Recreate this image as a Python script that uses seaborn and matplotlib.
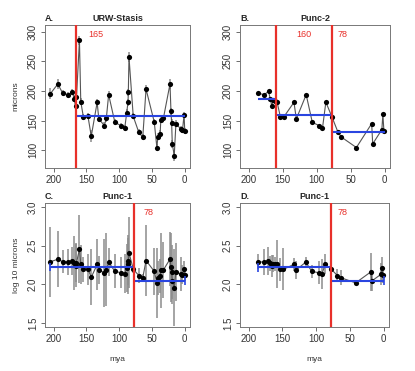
import numpy as np
import pandas as pd
import matplotlib
matplotlib.use("Agg")
import matplotlib.pyplot as plt
import seaborn as sns

# ---- data ----

# panel A / C : URW-Stasis and Punc-1 (all samples)
mya_a = [205, 193.5, 186, 177.5, 171.5, 168.5, 166.5, 165, 160.5, 158.5,
         154.5, 147.5, 142.5, 133.5, 131, 122.5, 119.5, 116, 106.5, 97.5,
         91.5, 88.5, 86.5, 86, 85, 78.5, 70, 64, 59, 46.5,
         42.5, 41, 37.5, 36.5, 32.5, 22.5, 21, 20, 19, 16,
         13.5, 6, 3.5, 1, 0]
microns_a = [195, 211.5, 196, 193.6, 198.6, 186.8, 174, 190, 284.9, 182,
             156, 157, 123.5, 180.7, 152.7, 141.5, 154, 193.6, 147, 141.5,
             137, 162.7, 181, 197.5, 257, 157, 130, 121.8, 203, 147.6,
             104.5, 122.4, 127.5, 151.5, 154, 211.5, 165.5, 146, 110.6, 91,
             144.3, 136, 133.6, 160, 132]
err_a = [9, 8, 5, 5, 5, 6, 6, 6, 8, 6,
         5, 5, 10, 6, 6, 6, 6, 6, 5, 5,
         5, 6, 6, 6, 8, 5, 5, 5, 7, 5,
         6, 6, 6, 6, 6, 8, 6, 6, 7, 10,
         6, 5, 5, 5, 5]
err_c = [0.45, 0.36, 0.15, 0.17, 0.18, 0.35, 0.28, 0.25, 0.44, 0.25,
         0.16, 0.20, 0.36, 0.33, 0.18, 0.44, 0.47, 0.18, 0.22, 0.20,
         0.25, 0.31, 0.38, 0.30, 0.46, 0.05, 0.10, 0.05, 0.46, 0.30,
         0.45, 0.22, 0.22, 0.48, 0.36, 0.35, 0.45, 0.35, 0.30, 0.50,
         0.37, 0.22, 0.12, 0.10, 0.08]

# panel B / D : Punc-2 and Punc-1 (subset)
mya_b = [186, 177.5, 171, 168.5, 166, 164.5, 161.5, 158.5, 153.5, 148.5,
         133.5, 130, 115.5, 106.5, 96.5, 91.5, 86.5, 77.5, 68.5, 63.5,
         41.5, 19, 17.5, 4, 2.5, 1]
microns_b = [196, 193.6, 199, 187, 174, 185, 183.5, 182, 156, 156,
             180.7, 152.7, 193.6, 147, 141.5, 137, 181, 156, 130, 122,
             104.5, 144.8, 110.6, 134.7, 160.6, 133]
err_d = [0.10, 0.17, 0.18, 0.10, 0.14, 0.11, 0.09, 0.31, 0.15, 0.27,
         0.08, 0.12, 0.07, 0.08, 0.15, 0.19, 0.13, 0.02, 0.08, 0.10,
         0.02, 0.24, 0.13, 0.14, 0.15, 0.11]

# fitted segments: (start, end, mean)
seg_a = [(165, 0, 157)]
seg_b = [(186, 160, 187), (160, 78, 160), (78, 0, 130)]
seg_c = [(205, 78, 2.225), (78, 0, 2.05)]
seg_d = [(186, 78, 2.22), (78, 0, 2.05)]

shifts_a = [165]
shifts_b = [160, 78]
shifts_c = [78]
shifts_d = [78]

df_a = pd.DataFrame({"mya": mya_a, "val": microns_a, "err": err_a})
df_b = pd.DataFrame({"mya": mya_b, "val": microns_b, "err": 0.0})
df_c = pd.DataFrame({"mya": mya_a, "val": np.log10(microns_a), "err": err_c})
df_d = pd.DataFrame({"mya": mya_b, "val": np.log10(microns_b), "err": err_d})

# ---- style ----
sns.set_style("ticks")
plt.rcParams["font.family"] = ["Liberation Sans", "DejaVu Sans"]

RED = "#e8302a"
BLUE = "#2a45e0"
W, H = 415, 371

fig = plt.figure(figsize=(W / 100, H / 100), dpi=100)


def make_ax(x0, y0, x1, y1):
    return fig.add_axes([x0 / W, 1 - y1 / H, (x1 - x0) / W, (y1 - y0) / H])


def panel(ax, df, segs, shifts, tag, title, ylim, yticks, ylabels,
          caps=False, label_dx=(9,)):
    ax.vlines(df["mya"], df["val"] - df["err"], df["val"] + df["err"],
              color="#8c8c8c", lw=1.1, zorder=1)
    sns.lineplot(data=df, x="mya", y="val", sort=False, color="#555555",
                 lw=0.8, ax=ax, zorder=2, estimator=None)
    sns.scatterplot(data=df, x="mya", y="val", color="black", s=14,
                    edgecolor="black", linewidth=0, ax=ax, zorder=3)
    for (s, e, m) in segs:
        ax.hlines(m, s, e, color=BLUE, lw=1.5, zorder=4)
    if caps:
        d = (ylim[1] - ylim[0]) * 0.035
        ax.vlines(segs[0][0], segs[0][2] - d, segs[0][2] + d, color=BLUE, lw=1.2, zorder=4)
        ax.vlines(segs[-1][1], segs[-1][2] - d, segs[-1][2] + d, color=BLUE, lw=1.2, zorder=4)
    for i, sh in enumerate(shifts):
        ax.axvline(sh, color=RED, lw=1.6, zorder=5)
        ax.annotate(str(sh), xy=(sh, ylim[1]), xytext=(label_dx[i], -7),
                    textcoords="offset points", color=RED, fontsize=6.5,
                    ha="center", va="center")
    ax.set_xlim(213, -8)
    ax.set_ylim(*ylim)
    ax.set_xticks([200, 150, 100, 50, 0])
    ax.set_xticklabels(["200", "150", "100", "50", "0"])
    ax.set_yticks(yticks)
    ax.set_yticklabels(ylabels, rotation=90, va="center")
    ax.tick_params(labelsize=7, length=3, width=0.6, colors="#555555",
                   labelcolor="#333333", pad=2)
    for sp in ax.spines.values():
        sp.set_visible(True)
        sp.set_color("#777777")
        sp.set_linewidth(0.7)
    ax.set_xlabel("")
    ax.set_ylabel("")
    ax.set_title(tag, loc="left", fontsize=6.5, fontweight="bold", pad=3)
    ax.set_title(title, loc="center", fontsize=6.5, fontweight="bold", pad=3)


# --------------------------
# A. URW-Stasis
# --------------------------
ax_a = make_ax(45, 25, 190, 168)
panel(ax_a, df_a, seg_a, shifts_a, "A.", "URW-Stasis", (70, 311),
      [100, 150, 200, 250, 300], ["100", "150", "200", "250", "300"],
      label_dx=(14,))
ax_a.set_ylabel("microns", fontsize=6, color="#333333", labelpad=6)

# --------------------------
# B. Punc-2
# --------------------------
ax_b = make_ax(240, 25, 390, 168)
panel(ax_b, df_b, seg_b, shifts_b, "B.", "Punc-2", (70, 311),
      [100, 150, 200, 250, 300], ["100", "150", "200", "250", "300"],
      label_dx=(20, 8))

# --------------------------
# C. Punc-1
# --------------------------
ax_c = make_ax(45, 203, 190, 327)
panel(ax_c, df_c, seg_c, shifts_c, "C.", "Punc-1", (1.45, 3.05),
      [1.5, 2.0, 2.5, 3.0], ["1.5", "2.0", "2.5", "3.0"], caps=True,
      label_dx=(11,))
ax_c.set_ylabel("log 10 microns", fontsize=6, color="#333333", labelpad=6)
ax_c.set_xlabel("mya", fontsize=6, color="#333333", labelpad=9)

# --------------------------
# D. Punc-1
# --------------------------
ax_d = make_ax(240, 203, 389, 327)
panel(ax_d, df_d, seg_d, shifts_d, "D.", "Punc-1", (1.45, 3.05),
      [1.5, 2.0, 2.5, 3.0], ["1.5", "2.0", "2.5", "3.0"], caps=True,
      label_dx=(8,))
ax_d.set_xlabel("mya", fontsize=6, color="#333333", labelpad=9)

fig.savefig("out.png", dpi=100, facecolor="white")
